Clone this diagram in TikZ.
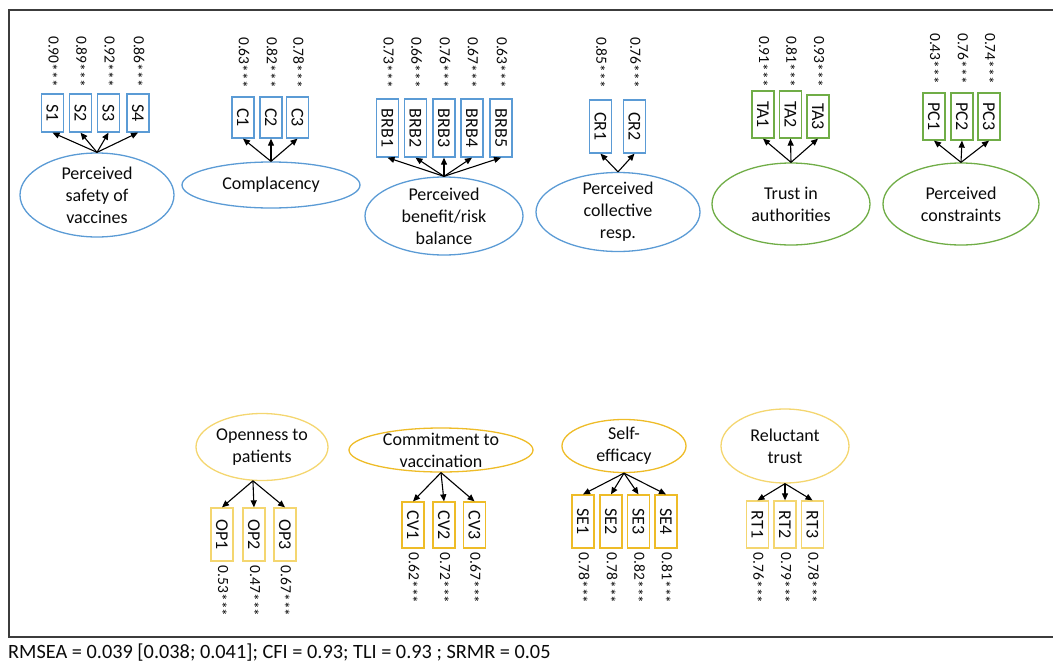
\documentclass[tikz,border=0pt]{standalone}
\usepackage{fontspec}
\setmainfont{Carlito}
\usetikzlibrary{shapes.geometric,arrows.meta}
\definecolor{cblue}{RGB}{91,155,213}
\definecolor{cgreen}{RGB}{112,173,71}
\definecolor{cgold}{RGB}{238,188,40}
\definecolor{clgold}{RGB}{244,214,112}
\definecolor{cframe}{RGB}{60,60,60}
\definecolor{ctext}{RGB}{10,10,10}
\newcommand{\stars}{\raisebox{-0.15em}{***}}
\tikzset{
  lat/.style={ellipse,draw,line width=1.3pt,inner sep=-12pt,align=center,text=ctext,
     font=\fontsize{18}{22}\selectfont},
  ind/.style={rectangle,draw,line width=1.3pt,inner sep=0pt,minimum width=22pt,text=ctext,
     font=\fontsize{18}{20}\selectfont},
  load/.style={inner sep=0pt,text=ctext,font=\fontsize{15.5}{17}\selectfont},
  arr/.style={line width=1.1pt,-{Triangle[length=7pt,width=6pt]}},
}
\begin{document}
\begin{tikzpicture}[x=1pt,y=-1pt]
\useasboundingbox (0,0) rectangle (1053,664);
\coordinate (fr1) at (1060,10);
\coordinate (fr2) at (9,10);
\coordinate (fr3) at (9,637);
\coordinate (fr4) at (1060,637);
\draw[cframe,line width=1.5pt] (fr1) -- (fr2) -- (fr3) -- (fr4);

% ---------- top row ----------
\node[lat,draw=cblue,minimum width=154pt,minimum height=84pt] (saf) at (97,195) {Perceived\\safety of\\vaccines};
\foreach \n/\x/\l in {1/52.5/0.90,2/80.5/0.89,3/108.5/0.92,4/138/0.86}{
  \node[ind,draw=cblue,minimum height=38pt] (s\n) at (\x,113) {\rotatebox{-90}{S\n}};
  \node[load,anchor=north] (ls\n) at (\x,36) {\rotatebox{-90}{\l\stars}};
  \draw[arr] (saf.north) -- (s\n.south);
}

\node[lat,draw=cblue,minimum width=178pt,minimum height=46pt] (com) at (271,185) {Complacency};
\foreach \n/\x/\l in {1/243/0.63,2/271/0.82,3/297.5/0.78}{
  \node[ind,draw=cblue,minimum height=41pt] (c\n) at (\x,117.5) {\rotatebox{-90}{C\n}};
  \node[load,anchor=north] (lc\n) at (\x,37) {\rotatebox{-90}{\l\stars}};
  \draw[arr] (com.north) -- (c\n.south);
}

\node[lat,draw=cblue,minimum width=158pt,minimum height=78pt] (brb) at (444,216) {Perceived\\benefit/risk\\balance};
\foreach \n/\x/\l in {1/387.5/0.73,2/415.5/0.66,3/444/0.76,4/472/0.67,5/501/0.63}{
  \node[ind,draw=cblue,minimum height=58pt] (b\n) at (\x,128) {\rotatebox{-90}{BRB\n}};
  \node[load,anchor=north] (lb\n) at (\x,37) {\rotatebox{-90}{\l\stars}};
  \draw[arr] (brb.north) -- (b\n.south);
}

\node[lat,draw=cblue,minimum width=164pt,minimum height=79pt] (cr) at (618,212) {Perceived\\collective\\resp.};
\foreach \n/\x/\l in {1/600.5/0.85,2/634.5/0.76}{
  \node[ind,draw=cblue,minimum height=53pt] (cr\n) at (\x,126.5) {\rotatebox{-90}{CR\n}};
  \node[load,anchor=north] (lcr\n) at (\x,37) {\rotatebox{-90}{\l\stars}};
  \draw[arr] (cr.north) -- (cr\n.south);
}

\node[lat,draw=cgreen,minimum width=158pt,minimum height=82pt] (ta) at (791,204) {Trust in\\authorities};
\foreach \n/\x/\y/\h/\l in {1/763/114.5/47/0.91,2/790.5/114.5/47/0.81,3/818/116.5/43/0.93}{
  \node[ind,draw=cgreen,minimum height=\h pt] (ta\n) at (\x,\y) {\rotatebox{-90}{TA\n}};
  \node[load,anchor=north] (lta\n) at (\x,36) {\rotatebox{-90}{\l\stars}};
  \draw[arr] (ta.north) -- (ta\n.south);
}

\node[lat,draw=cgreen,minimum width=156pt,minimum height=82pt] (pc) at (961,204) {Perceived\\constraints};
\foreach \n/\x/\l in {1/934/0.43,2/962/0.76,3/989/0.74}{
  \node[ind,draw=cgreen,minimum height=47pt] (pc\n) at (\x,116.5) {\rotatebox{-90}{PC\n}};
  \node[load,anchor=north] (lpc\n) at (\x,33) {\rotatebox{-90}{\l\stars}};
  \draw[arr] (pc.north) -- (pc\n.south);
}

% ---------- bottom row ----------
\node[lat,draw=clgold,minimum width=132pt,minimum height=67pt] (op) at (262,447) {Openness to\\patients};
\foreach \n/\x/\l in {1/222/0.53,2/254/0.47,3/285/0.67}{
  \node[ind,draw=clgold,minimum height=53pt] (op\n) at (\x,534.5) {\rotatebox{-90}{OP\n}};
  \node[load,anchor=north,yshift=-4pt] (lop\n) at (op\n.south) {\rotatebox{-90}{\l\stars}};
  \draw[arr] (op.-105) -- (op\n.north);
}

\node[lat,draw=cgold,minimum width=184pt,minimum height=44pt] (cv) at (441,450) {Commitment to\\vaccination};
\foreach \n/\x/\l in {1/413/0.62,2/444/0.72,3/474.5/0.67}{
  \node[ind,draw=cgold,minimum height=46pt] (cv\n) at (\x,525) {\rotatebox{-90}{CV\n}};
  \node[load,anchor=north,yshift=-4pt] (lcv\n) at (cv\n.south) {\rotatebox{-90}{\l\stars}};
  \draw[arr] (cv.south) -- (cv\n.north);
}

\node[lat,draw=cgold,minimum width=124pt,minimum height=53pt] (se) at (624,446) {Self-\\efficacy};
\foreach \n/\x/\l in {1/583/0.78,2/611/0.78,3/638.5/0.82,4/666/0.81}{
  \node[ind,draw=cgold,minimum height=53pt] (se\n) at (\x,521.5) {\rotatebox{-90}{SE\n}};
  \node[load,anchor=north,yshift=-4pt] (lse\n) at (se\n.south) {\rotatebox{-90}{\l\stars}};
  \draw[arr] (se.south) -- (se\n.north);
}

\node[lat,draw=clgold,minimum width=128pt,minimum height=74pt] (rt) at (785,446) {Reluctant\\trust};
\foreach \n/\x/\l in {1/757.5/0.76,2/785/0.79,3/812.5/0.78}{
  \node[ind,draw=clgold,minimum height=47pt] (rt\n) at (\x,524.5) {\rotatebox{-90}{RT\n}};
  \node[load,anchor=north,yshift=-4pt] (lrt\n) at (rt\n.south) {\rotatebox{-90}{\l\stars}};
  \draw[arr] (rt.south) -- (rt\n.north);
}

\node[anchor=base west,inner sep=0pt,text=ctext,font=\fontsize{20.3}{22}\selectfont] (fit) at (8,658)
  {RMSEA = 0.039 [0.038; 0.041]; CFI = 0.93; TLI = 0.93 ; SRMR = 0.05};
\end{tikzpicture}
\end{document}
